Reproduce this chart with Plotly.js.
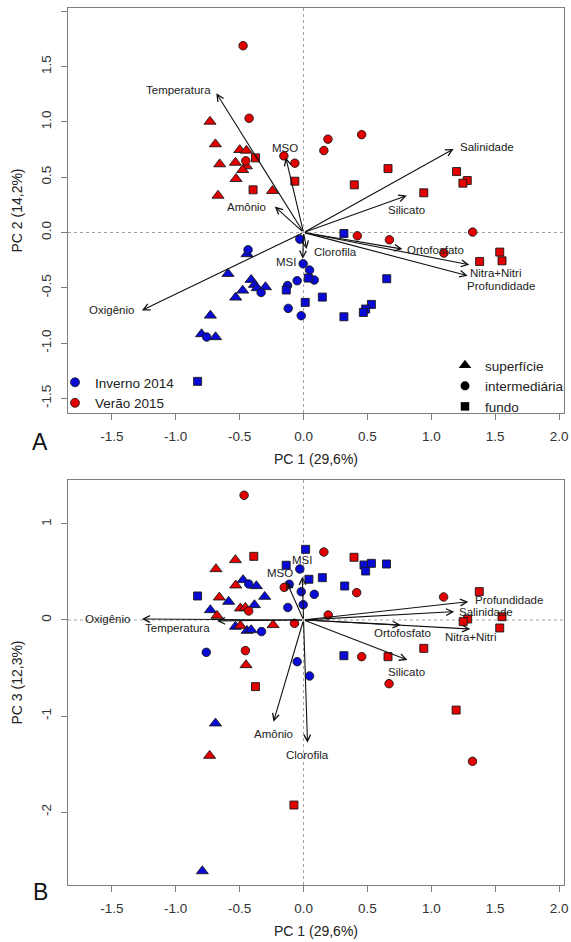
<!DOCTYPE html>
<html><head><meta charset="utf-8">
<script src="https://cdn.plot.ly/plotly-3.0.1.min.js"></script>
<style>html,body{margin:0;padding:0;background:#fff}#chart{width:571px;height:942px}</style>
</head><body><div id="chart"></div>
<script>
// ---------------- DATA ----------------
const seasons = ['Inverno 2014', 'Verão 2015'];
const depths = ['superfície', 'intermediária', 'fundo'];
const depthCodes = ['s', 'i', 'f'];

const xTickVals = [-1.5, -1, -0.5, 0, 0.5, 1, 1.5, 2];
const xTickText = ['-1.5', '-1.0', '-0.5', '0.0', '0.5', '1.0', '1.5', '2.0'];
const yTickValsA = [-1.5, -1, -0.5, 0, 0.5, 1, 1.5, 2];
const yTickTextA = ['-1.5', '-1.0', '-0.5', '0.0', '0.5', '1.0', '1.5', '2.0'];
const yTickValsB = [-2, -1, 0, 1];
const yTickTextB = ['-2', '-1', '0', '1'];

const variables = ['Temperatura', 'MSO', 'Amônio', 'Oxigênio', 'Clorofila', 'MSI',
  'Salinidade', 'Silicato', 'Ortofosfato', 'Nitra+Nitri', 'Profundidade'];
const loadA_pc1 = [-0.682, -0.139, -0.225, -1.265, 0.024, -0.006, 1.174, 0.808, 0.774, 1.297, 1.284];
const loadA_pc2 = [1.259, 0.678, 0.235, -0.705, -0.150, -0.238, 0.756, 0.334, -0.150, -0.292, -0.391];
const loadB_pc1 = [-0.677, -0.133, -0.235, -1.265, 0.031, -0.010, 1.179, 0.813, 0.761, 1.305, 1.289];
const loadB_pc3 = [-0.010, 0.399, -1.059, 0.010, -1.278, 0.451, 0.087, -0.417, -0.052, -0.094, 0.191];

// samples: [PC1, PC2, depth]
const invernoA = [
  [-0.434, -0.156, 'i'], [-0.442, -0.195, 's'], [-0.591, -0.373, 's'], [-0.410, -0.427, 's'],
  [-0.384, -0.472, 's'], [-0.476, -0.524, 's'], [-0.363, -0.502, 's'], [-0.298, -0.493, 's'],
  [-0.332, -0.542, 'i'], [-0.531, -0.587, 's'], [-0.729, -0.750, 's'], [-0.798, -0.918, 's'],
  [-0.758, -0.945, 'i'], [-0.688, -0.945, 's'], [-0.829, -1.346, 'f'], [-0.125, -0.480, 'i'],
  [-0.135, -0.520, 'f'], [-0.120, -0.686, 'i'], [-0.018, -0.752, 'i'], [-0.050, -0.436, 'i'],
  [-0.029, -0.060, 'i'], [-0.003, -0.283, 'i'], [0.047, -0.340, 'i'], [0.037, -0.412, 'f'],
  [0.084, -0.430, 'i'], [0.147, -0.584, 'f'], [0.013, -0.632, 'f'], [0.316, -0.009, 'f'],
  [0.316, -0.762, 'f'], [0.531, -0.650, 'f'], [0.486, -0.692, 'f'], [0.468, -0.723, 'f'],
  [0.651, -0.418, 'f']
];
const veraoA = [
  [-0.473, 1.689, 'i'], [-0.426, 1.033, 'i'], [-0.732, 1.003, 's'], [-0.690, 0.799, 's'],
  [-0.499, 0.747, 's'], [-0.447, 0.741, 's'], [-0.376, 0.675, 'f'], [-0.452, 0.648, 'i'],
  [-0.533, 0.632, 's'], [-0.656, 0.618, 's'], [-0.447, 0.600, 's'], [-0.476, 0.566, 's'],
  [-0.528, 0.485, 's'], [-0.669, 0.334, 's'], [-0.243, 0.377, 's'], [-0.395, 0.386, 'f'],
  [-0.154, 0.693, 'i'], [-0.068, 0.627, 'i'], [-0.068, 0.464, 'f'], [0.191, 0.844, 'i'],
  [0.455, 0.885, 'i'], [0.159, 0.741, 'i'], [0.661, 0.578, 'f'], [0.397, 0.431, 'f'],
  [0.941, 0.359, 'f'], [1.197, 0.551, 'f'], [1.281, 0.470, 'f'], [1.247, 0.446, 'f'],
  [1.323, 0.004, 'i'], [0.421, -0.030, 'i'], [0.672, -0.066, 'i'], [1.098, -0.186, 'i'],
  [1.535, -0.177, 'f'], [1.378, -0.262, 'f'], [1.553, -0.256, 'f']
];
// samples: [PC1, PC3, depth]
const invernoB = [
  [-0.829, 0.250, 'f'], [-0.729, 0.104, 's'], [-0.586, 0.191, 's'], [-0.473, 0.417, 's'],
  [-0.429, 0.375, 'i'], [-0.369, 0.354, 's'], [-0.304, 0.243, 's'], [-0.384, 0.156, 's'],
  [-0.123, 0.130, 'i'], [-0.112, 0.372, 'i'], [-0.533, -0.069, 's'], [-0.442, -0.111, 's'],
  [-0.410, -0.104, 's'], [-0.329, -0.121, 'i'], [-0.761, -0.337, 'i'], [-0.050, -0.434, 'i'],
  [-0.136, 0.570, 'f'], [-0.029, 0.531, 'i'], [-0.018, 0.295, 'i'], [0.084, 0.267, 'i'],
  [-0.003, 0.160, 'i'], [0.016, 0.736, 'f'], [0.473, 0.573, 'f'], [0.531, 0.590, 'f'],
  [0.649, 0.583, 'f'], [0.486, 0.510, 'f'], [0.042, 0.424, 'f'], [0.147, 0.441, 'f'],
  [0.322, 0.354, 'f'], [0.047, -0.583, 'i'], [0.316, -0.372, 'f'], [-0.689, -1.076, 's'],
  [-0.792, -2.615, 's']
];
const veraoB = [
  [-0.465, 1.299, 'i'], [-0.389, 0.663, 'f'], [-0.533, 0.625, 's'], [-0.685, 0.531, 's'],
  [-0.531, 0.361, 's'], [-0.659, 0.236, 's'], [-0.494, 0.122, 's'], [-0.455, 0.128, 's'],
  [-0.429, 0.094, 'i'], [-0.677, 0.045, 's'], [-0.494, -0.059, 's'], [-0.238, -0.052, 's'],
  [-0.151, 0.340, 'i'], [-0.071, -0.035, 'i'], [-0.455, -0.319, 'i'], [-0.450, -0.469, 's'],
  [-0.376, -0.694, 'f'], [0.159, 0.708, 'i'], [0.395, 0.653, 'f'], [0.416, 0.285, 'i'],
  [0.193, 0.052, 'i'], [0.455, -0.382, 'i'], [0.661, -0.382, 'f'], [1.096, 0.240, 'i'],
  [1.375, 0.295, 'f'], [1.553, 0.034, 'f'], [1.284, 0.010, 'f'], [1.249, -0.017, 'f'],
  [1.535, -0.083, 'f'], [0.941, -0.295, 'f'], [0.669, -0.663, 'i'], [1.194, -0.938, 'f'],
  [1.322, -1.472, 'i'], [-0.735, -1.413, 's'], [-0.075, -1.927, 'f']
];

// ---------------- STYLE ----------------
const FONT = 'Liberation Sans, Arial, sans-serif';
const seasonColors = ['#0A0AD6', '#E20000'];
const depthSymbols = ['triangle-up', 'circle', 'square'];
const depthSizes = [10.5, 8.5, 8];
const outline = '#1a1a1a';
// label placement relative to arrow tip: [xanchor, xshift(px), yshift(px)]
const labelStyleA = {
  'Temperatura': ['right', -3, 3], 'MSO': ['center', -1, 10], 'Amônio': ['right', -7, 0],
  'Oxigênio': ['right', -6, 0], 'Clorofila': ['left', 5, -3], 'MSI': ['right', -5, -3],
  'Salinidade': ['left', 4, 2], 'Silicato': ['center', 0, -14], 'Ortofosfato': ['left', 3, -1],
  'Nitra+Nitri': ['left', -1, -8], 'Profundidade': ['left', -3, -10]
};
const labelStyleB = {
  'Temperatura': ['right', -5, -7], 'MSO': ['center', -7, 9], 'Amônio': ['center', 0, -12],
  'Oxigênio': ['right', -10, 0], 'Clorofila': ['center', 0, -12], 'MSI': ['center', 0, 17],
  'Salinidade': ['left', 3, 0], 'Silicato': ['center', -1, -12], 'Ortofosfato': ['center', 2, -8],
  'Nitra+Nitri': ['center', 0, -8], 'Profundidade': ['left', 5, 2]
};

// ---------------- BUILD ----------------
const traces = [];
function addPanel(samplesBySeason, xa, ya) {
  samplesBySeason.forEach((samples, si) => {
    depthCodes.forEach((code, di) => {
      const sel = samples.filter(p => p[2] === code);
      traces.push({
        type: 'scatter', mode: 'markers', xaxis: xa, yaxis: ya,
        x: sel.map(p => p[0]), y: sel.map(p => p[1]),
        name: seasons[si] + ' - ' + depths[di], showlegend: false, hoverinfo: 'x+y',
        marker: { symbol: depthSymbols[di], size: depthSizes[di], color: seasonColors[si],
          line: { color: outline, width: 0.9 } }
      });
    });
  });
}
addPanel([invernoA, veraoA], 'x', 'y');
addPanel([invernoB, veraoB], 'x2', 'y2');

// legend entries
seasons.forEach((s, si) => traces.push({
  type: 'scatter', mode: 'markers', x: [null], y: [null], xaxis: 'x', yaxis: 'y',
  name: s, legend: 'legend', showlegend: true,
  marker: { symbol: 'circle', size: 9, color: seasonColors[si], line: { color: outline, width: 0.8 } }
}));
depths.forEach((d, di) => traces.push({
  type: 'scatter', mode: 'markers', x: [null], y: [null], xaxis: 'x', yaxis: 'y',
  name: d, legend: 'legend2', showlegend: true,
  marker: { symbol: depthSymbols[di], size: depthSizes[di] + 0.5, color: '#000', line: { color: '#000', width: 0 } }
}));

const annotations = [];
function addArrows(px, py, xr, yr, styles) {
  variables.forEach((v, i) => {
    annotations.push({
      x: px[i], y: py[i], ax: 0, ay: 0, xref: xr, yref: yr, axref: xr, ayref: yr,
      text: '', showarrow: true, arrowhead: 5, arrowsize: 1.2, arrowwidth: 1.1,
      arrowcolor: '#111', standoff: 0, startstandoff: 0
    });
    const st = styles[v];
    annotations.push({
      x: px[i], y: py[i], xref: xr, yref: yr, text: v, showarrow: false,
      xanchor: st[0], yanchor: 'middle', xshift: st[1], yshift: st[2],
      font: { family: FONT, size: 11.5, color: '#222' }
    });
  });
}
addArrows(loadA_pc1, loadA_pc2, 'x', 'y', labelStyleA);
addArrows(loadB_pc1, loadB_pc3, 'x2', 'y2', labelStyleB);

annotations.push({ xref: 'paper', yref: 'paper', x: 40 / 571, y: 1 - 442 / 942, text: 'A',
  showarrow: false, xanchor: 'center', yanchor: 'middle', font: { family: FONT, size: 23, color: '#111' } });
annotations.push({ xref: 'paper', yref: 'paper', x: 40 / 571, y: 1 - 892 / 942, text: 'B',
  showarrow: false, xanchor: 'center', yanchor: 'middle', font: { family: FONT, size: 23, color: '#111' } });

const dotted = { color: '#a0a0a0', width: 1, dash: 'dot' };
const shapes = [
  { type: 'line', xref: 'x', yref: 'y domain', x0: 0, x1: 0, y0: 0, y1: 1, line: dotted, layer: 'below' },
  { type: 'line', xref: 'x domain', yref: 'y', x0: 0, x1: 1, y0: 0, y1: 0, line: dotted, layer: 'below' },
  { type: 'line', xref: 'x2', yref: 'y2 domain', x0: 0, x1: 0, y0: 0, y1: 1, line: dotted, layer: 'below' },
  { type: 'line', xref: 'x2 domain', yref: 'y2', x0: 0, x1: 1, y0: 0, y1: 0, line: dotted, layer: 'below' }
];

const xDom = [68 / 571, 564 / 571];
const axisCommon = {
  showline: true, mirror: true, linecolor: '#7f7f7f', linewidth: 1,
  ticks: 'outside', ticklen: 6, tickwidth: 1, tickcolor: '#7f7f7f',
  showgrid: false, zeroline: false, ticklabelstandoff: 5,
  tickfont: { family: FONT, size: 13.5, color: '#333' }
};
const titleFont = { family: FONT, size: 14, color: '#222' };

const layout = {
  width: 571, height: 942, margin: { l: 0, r: 0, t: 0, b: 0 },
  paper_bgcolor: '#fff', plot_bgcolor: '#fff', font: { family: FONT },
  showlegend: true,
  xaxis: Object.assign({}, axisCommon, { domain: xDom, anchor: 'y', range: [-1.843, 2.038],
    tickmode: 'array', tickvals: xTickVals, ticktext: xTickText,
    title: { text: 'PC 1 (29,6%)', font: titleFont, standoff: 10 } }),
  yaxis: Object.assign({}, axisCommon, { domain: [1 - 413 / 942, 1 - 8 / 942], anchor: 'x', range: [-1.632, 2.030],
    tickmode: 'array', tickvals: yTickValsA, ticktext: yTickTextA, tickangle: -90,
    title: { text: 'PC 2 (14,2%)', font: titleFont, standoff: 12 } }),
  xaxis2: Object.assign({}, axisCommon, { domain: xDom, anchor: 'y2', range: [-1.843, 2.038],
    tickmode: 'array', tickvals: xTickVals, ticktext: xTickText,
    title: { text: 'PC 1 (29,6%)', font: titleFont, standoff: 10 } }),
  yaxis2: Object.assign({}, axisCommon, { domain: [1 - 885 / 942, 1 - 480 / 942], anchor: 'x2', range: [-2.760, 1.458],
    tickmode: 'array', tickvals: yTickValsB, ticktext: yTickTextB, tickangle: -90,
    title: { text: 'PC 3 (12,3%)', font: titleFont, standoff: 12 } }),
  legend: { x: 55 / 571, y: 1 - 367 / 942, xanchor: 'left', yanchor: 'top', bgcolor: 'rgba(0,0,0,0)',
    borderwidth: 0, itemwidth: 30, tracegroupgap: 0, font: { family: FONT, size: 13.5, color: '#222' } },
  legend2: { x: 445 / 571, y: 1 - 350 / 942, xanchor: 'left', yanchor: 'top', bgcolor: 'rgba(0,0,0,0)',
    borderwidth: 0, itemwidth: 30, tracegroupgap: 0, font: { family: FONT, size: 13.5, color: '#222' } },
  annotations: annotations, shapes: shapes
};

Plotly.newPlot('chart', traces, layout, { staticPlot: true, displayModeBar: false });
</script>
</body></html>
